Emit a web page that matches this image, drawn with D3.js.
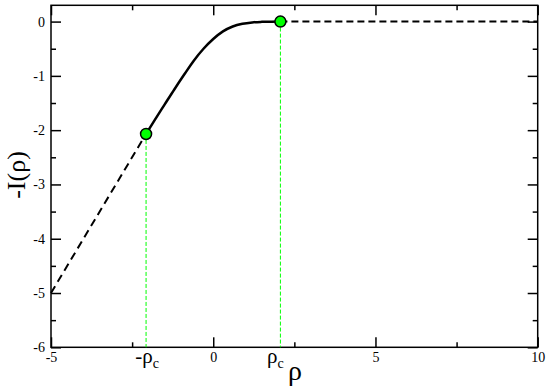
<!DOCTYPE html>
<html>
<head>
<meta charset="utf-8">
<script src="https://cdn.jsdelivr.net/npm/d3@7"></script>
<style>
  body { margin: 0; background: #fff; }
  svg text { font-family: 'Liberation Serif', 'DejaVu Serif', serif; fill: #000; }
</style>
</head>
<body>
<div id="chart"></div>
<script>
// data
const rhoC = 2.07
const xTicks = [-5, 0, 5, 10]
const xMinorTicks = [-2.5, 2.5, 7.5]
const yTicks = [0, -1, -2, -3, -4, -5, -6]
const yMinorTicks = [-0.5, -1.5, -2.5, -3.5, -4.5, -5.5]

const curveRho = [-2.07, -1.8, -1.5, -1.2, -0.9, -0.6, -0.3, 0, 0.3, 0.6, 0.9, 1.2, 1.5, 1.8, 2.07]
const curveI = [-2.07, -1.81, -1.53, -1.25, -0.98, -0.72, -0.5, -0.32, -0.18, -0.09, -0.04, -0.015, -0.005, -0.001, 0]

const leftDashRho = [-5, -2.07]
const leftDashI = [-5, -2.07]
const rightDashRho = [2.07, 10]
const rightDashI = [0, 0]

const criticalRho = [-2.07, 2.07]
const criticalI = [-2.07, 0]

const width = 550
const height = 392
const margin = { top: 5.3, right: 12.3, bottom: 44.7, left: 51 }

const svg = d3.select('#chart').append('svg')
  .attr('width', width)
  .attr('height', height)

const x = d3.scaleLinear().domain([-5, 10]).range([margin.left, width - margin.right])
const y = d3.scaleLinear().domain([-6, 0.3]).range([height - margin.bottom, margin.top])

const fmt = d => String(d)

function styleAxis(g) {
  g.select('.domain').remove()
  g.attr('font-size', null).attr('font-family', null)
  g.selectAll('line').attr('stroke', '#000').attr('stroke-width', 1.5)
  g.selectAll('text').style('font-size', '14px')
}

// bottom
svg.append('g')
  .attr('transform', `translate(0,${y.range()[0]})`)
  .call(d3.axisBottom(x).tickValues(xTicks).tickFormat(fmt).tickSizeInner(-10).tickSizeOuter(0).tickPadding(5))
  .call(styleAxis)
svg.append('g')
  .attr('transform', `translate(0,${y.range()[0]})`)
  .call(d3.axisBottom(x).tickValues(xMinorTicks).tickFormat('').tickSizeInner(-5).tickSizeOuter(0))
  .call(styleAxis)
// top
svg.append('g')
  .attr('transform', `translate(0,${y.range()[1]})`)
  .call(d3.axisTop(x).tickValues(xTicks).tickFormat('').tickSizeInner(-10).tickSizeOuter(0))
  .call(styleAxis)
svg.append('g')
  .attr('transform', `translate(0,${y.range()[1]})`)
  .call(d3.axisTop(x).tickValues(xMinorTicks).tickFormat('').tickSizeInner(-5).tickSizeOuter(0))
  .call(styleAxis)
// left
svg.append('g')
  .attr('transform', `translate(${x.range()[0]},0)`)
  .call(d3.axisLeft(y).tickValues(yTicks).tickFormat(fmt).tickSizeInner(-10).tickSizeOuter(0).tickPadding(6))
  .call(styleAxis)
svg.append('g')
  .attr('transform', `translate(${x.range()[0]},0)`)
  .call(d3.axisLeft(y).tickValues(yMinorTicks).tickFormat('').tickSizeInner(-5).tickSizeOuter(0))
  .call(styleAxis)
// right
svg.append('g')
  .attr('transform', `translate(${x.range()[1]},0)`)
  .call(d3.axisRight(y).tickValues(yTicks).tickFormat('').tickSizeInner(-10).tickSizeOuter(0))
  .call(styleAxis)
svg.append('g')
  .attr('transform', `translate(${x.range()[1]},0)`)
  .call(d3.axisRight(y).tickValues(yMinorTicks).tickFormat('').tickSizeInner(-5).tickSizeOuter(0))
  .call(styleAxis)

// frame
svg.append('rect')
  .attr('x', x.range()[0])
  .attr('y', y.range()[1])
  .attr('width', x.range()[1] - x.range()[0])
  .attr('height', y.range()[0] - y.range()[1])
  .attr('fill', 'none')
  .attr('stroke', '#000')
  .attr('stroke-width', 1.5)

const line = d3.line().x(d => x(d[0])).y(d => y(d[1]))
const zip = (a, b) => a.map((v, i) => [v, b[i]])

// green drop lines
svg.selectAll('.drop')
  .data(zip(criticalRho, criticalI))
  .enter()
  .append('line')
  .attr('class', 'drop')
  .attr('x1', d => x(d[0]))
  .attr('x2', d => x(d[0]))
  .attr('y1', d => y(d[1]))
  .attr('y2', y(-6))
  .attr('stroke', '#00ff00')
  .attr('stroke-width', 1)
  .attr('stroke-dasharray', '4,2')

// dashed asymptotes
svg.append('path')
  .datum(zip(leftDashRho, leftDashI))
  .attr('d', line)
  .attr('fill', 'none')
  .attr('stroke', '#000')
  .attr('stroke-width', 2)
  .attr('stroke-dasharray', '8,5')

svg.append('path')
  .datum(zip(rightDashRho, rightDashI))
  .attr('d', line)
  .attr('fill', 'none')
  .attr('stroke', '#000')
  .attr('stroke-width', 2)
  .attr('stroke-dasharray', '7,4')

// solid curve
svg.append('path')
  .datum(zip(curveRho, curveI))
  .attr('d', line.curve(d3.curveMonotoneX))
  .attr('fill', 'none')
  .attr('stroke', '#000')
  .attr('stroke-width', 2.5)

// markers
svg.selectAll('.pt')
  .data(zip(criticalRho, criticalI))
  .enter()
  .append('circle')
  .attr('class', 'pt')
  .attr('cx', d => x(d[0]))
  .attr('cy', d => y(d[1]))
  .attr('r', 5.5)
  .attr('fill', '#00ff00')
  .attr('stroke', '#000')
  .attr('stroke-width', 1.5)

// rho_c labels
const lab1 = svg.append('text')
  .attr('x', x(-rhoC) + 1)
  .attr('y', 363)
  .attr('text-anchor', 'middle')
  .style('font-size', '21px')
lab1.append('tspan').text('-\u03c1')
lab1.append('tspan').attr('dy', 5).style('font-size', '14px').text('c')

const lab2 = svg.append('text')
  .attr('x', x(rhoC) - 5)
  .attr('y', 363)
  .attr('text-anchor', 'middle')
  .style('font-size', '21px')
lab2.append('tspan').text('\u03c1')
lab2.append('tspan').attr('dy', 5).style('font-size', '14px').text('c')

// axis titles
svg.append('text')
  .attr('x', 295)
  .attr('y', 380)
  .attr('text-anchor', 'middle')
  .style('font-size', '28px')
  .text('\u03c1')

svg.append('text')
  .attr('transform', 'translate(25,175) rotate(-90)')
  .attr('text-anchor', 'middle')
  .style('font-size', '26px')
  .text('-I(\u03c1)')
</script>
</body>
</html>
